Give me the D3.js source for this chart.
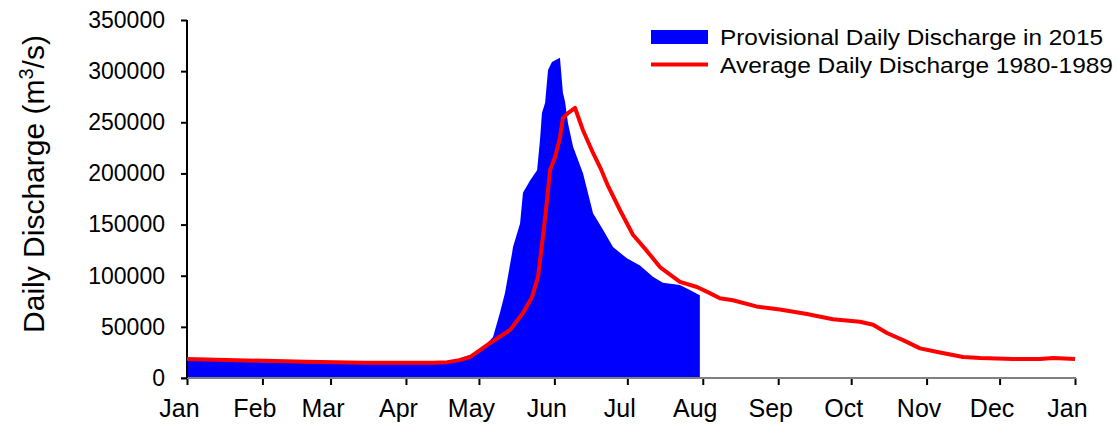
<!DOCTYPE html>
<html><head><meta charset="utf-8">
<script src="https://cdn.jsdelivr.net/npm/d3@7"></script>
<style>
html,body{margin:0;padding:0;background:#fff;}
svg{display:block;font-family:"Liberation Sans",Arial,sans-serif;}
</style></head>
<body><svg id="chart" width="1117" height="427"></svg>
<script>
const monthLabels = ["Jan","Feb","Mar","Apr","May","Jun","Jul","Aug","Sep","Oct","Nov","Dec","Jan"];
const monthStartDays = [0,31,59,90,120,151,181,212,243,273,304,334,365];
const yTickValues = [0,50000,100000,150000,200000,250000,300000,350000];

// Provisional Daily Discharge in 2015 (day of year, m3/s)
const provDays =   [0,12,32,49,73,101,107,112,116.3,121,125.8,128.6,130.7,133.6,134,136.9,138.1,141,143.9,145.1,145.9,147.2,148.4,150,153.3,154.5,155.4,156.6,158.7,162.8,166.9,171,175.1,180.8,186.2,191.5,195.6,202.6,206.7,210.8];
const provValues = [17000,16500,15500,14800,13800,13800,15000,19000,22500,28000,40000,63500,83000,122000,128000,151000,181000,193000,203000,233000,259000,269000,301000,309000,313000,279000,270000,249000,226000,200000,161000,145000,128000,117000,110000,99000,93000,91000,86000,81000];

// Average Daily Discharge 1980-1989
const avgDays =   [0,12,32,49,73,101,107,112,116.3,124.5,132.8,138.1,141.8,144.3,146.3,148,149.2,151.3,153.3,154.5,156.6,159.5,162.8,166.9,170,173,178,183.3,189.1,194.4,202.6,209.6,214.9,219,224.4,234,243.7,254.8,265.5,276.6,282,287.7,294.3,301.3,309.5,319,326,339.5,350.6,356,365];
const avgValues = [18500,17800,16800,15800,14800,14800,15500,17500,20500,34000,47000,63500,79000,99000,138000,174000,203000,216000,235000,254000,259000,264000,242000,220000,205000,188000,164000,140000,124000,108500,94000,89000,83000,78000,76000,70000,67000,62500,57500,55000,52000,44000,37000,29000,25000,20500,19500,18500,18500,19500,18500];

const svg = d3.select("#chart");
const x = d3.scaleLinear().domain([0,365]).range([187,1075]);
const y = d3.scaleLinear().domain([0,350000]).range([378,20]);

const prov = provDays.map((d,i)=>({d, v:provValues[i]}));
const avg = avgDays.map((d,i)=>({d, v:avgValues[i]}));

svg.append("path")
  .attr("d", d3.area().x(p=>x(p.d)).y0(y(0)).y1(p=>y(p.v))(prov))
  .attr("fill","#0000ff");

// x axis
const xAxis = svg.append("g").attr("transform",`translate(0,${y(0)})`)
  .call(d3.axisBottom(x).tickValues(monthStartDays).tickSize(7).tickPadding(8).tickFormat((d,i)=>monthLabels[i]));
xAxis.select(".domain").remove();
xAxis.selectAll(".tick line").attr("stroke","#000").attr("stroke-width",2);
xAxis.selectAll(".tick text").attr("font-size",25).attr("fill","#000").attr("dx",-8).attr("dy","0.95em").attr("font-family","Liberation Sans, Arial, sans-serif");
svg.append("line").attr("x1",x(0)-6).attr("x2",x(365)+1).attr("y1",y(0)).attr("y2",y(0))
  .attr("stroke","#808080").attr("stroke-width",2);

// y axis
const yAxis = svg.append("g").attr("transform",`translate(${x(0)},0)`)
  .call(d3.axisLeft(y).tickValues(yTickValues).tickSize(6).tickPadding(16).tickFormat(d3.format("d")));
yAxis.select(".domain").attr("stroke","#000").attr("stroke-width",2).attr("d",`M0,${y(350000)}V${y(0)}`);
yAxis.selectAll(".tick line").attr("stroke","#000").attr("stroke-width",2);
yAxis.selectAll(".tick text").attr("font-size",23).attr("fill","#000").attr("font-family","Liberation Sans, Arial, sans-serif");

// red line
svg.append("path")
  .attr("d", d3.line().x(p=>x(p.d)).y(p=>y(p.v))(avg))
  .attr("fill","none").attr("stroke","#ff0000").attr("stroke-width",4).attr("stroke-linejoin","round");

// y title
const yt = svg.append("text").attr("transform","translate(44,184) rotate(-90)")
  .attr("text-anchor","middle").attr("font-size",30).attr("fill","#000");
yt.append("tspan").text("Daily Discharge (m");
yt.append("tspan").attr("dy",-11).attr("font-size",20).text("3");
yt.append("tspan").attr("dy",11).text("/s)");

// legend
const lg = svg.append("g");
lg.append("rect").attr("x",651).attr("y",30).attr("width",57).attr("height",14).attr("fill","#0000ff");
lg.append("line").attr("x1",651).attr("x2",708).attr("y1",64.5).attr("y2",64.5).attr("stroke","#ff0000").attr("stroke-width",4);
lg.append("text").attr("x",720).attr("y",45).attr("font-size",22.5).attr("fill","#000")
  .attr("textLength",383).attr("lengthAdjust","spacingAndGlyphs").text("Provisional Daily Discharge in 2015");
lg.append("text").attr("x",720).attr("y",73).attr("font-size",22.5).attr("fill","#000")
  .attr("textLength",393).attr("lengthAdjust","spacingAndGlyphs").text("Average Daily Discharge 1980-1989");
</script></body></html>
